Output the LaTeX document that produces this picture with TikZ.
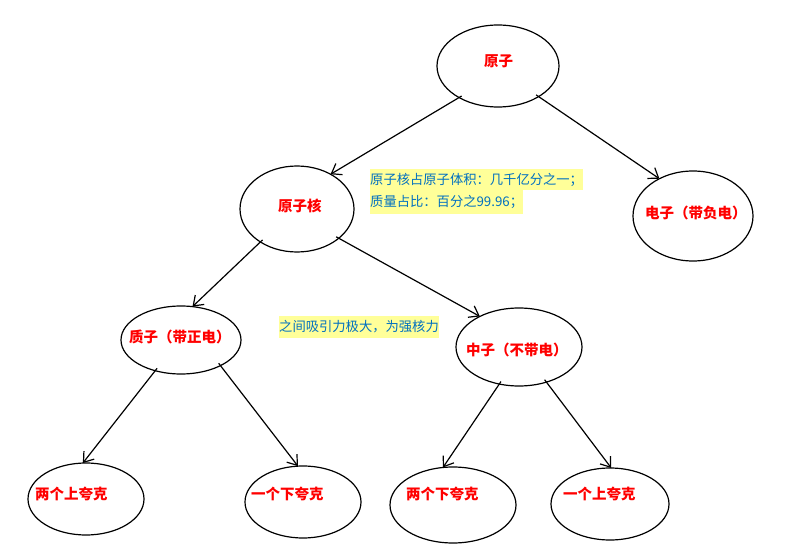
\documentclass[tikz,border=0pt]{standalone}
\usepackage{fontspec}
\setmainfont{Noto Sans CJK SC}
\usetikzlibrary{arrows.meta,shapes.geometric}
\definecolor{hl}{HTML}{FFFF99}
\definecolor{note}{HTML}{0070C0}
\definecolor{name}{HTML}{FF0000}

\begin{document}
\begin{tikzpicture}[
  x=1pt, y=-1pt,
  oval/.style={draw, ellipse, line width=1.2pt, inner sep=0pt, outer sep=0pt},
  tag/.style={text=name, font=\bfseries\fontsize{14.5}{16}\selectfont, inner sep=0pt, anchor=west},
  memo/.style={fill=hl, text=note, font=\fontsize{13.3}{15}\selectfont, inner xsep=0pt,
    inner ysep=0pt, minimum height=22pt, anchor=west},
  link/.style={-{Straight Barb[length=9pt,width=13pt,line width=1.2pt]}, line width=1.2pt,
    shorten <=-3pt}
]
  \useasboundingbox (0,0) rectangle (796,559);

  % ovals
  \node[oval, minimum width=122pt, minimum height=82pt] (atom) at (498,66) {};
  \node[oval, minimum width=114pt, minimum height=86pt] (nucleus) at (297,209) {};
  \node[oval, minimum width=120pt, minimum height=90pt] (electron) at (693,216) {};
  \node[oval, minimum width=120pt, minimum height=68pt] (proton) at (181,340) {};
  \node[oval, minimum width=126pt, minimum height=78pt] (neutron) at (519,347) {};
  \node[oval, minimum width=116pt, minimum height=72pt] (upA) at (86,499) {};
  \node[oval, minimum width=116pt, minimum height=72pt] (downA) at (303,502) {};
  \node[oval, minimum width=126pt, minimum height=76pt] (downB) at (453,505) {};
  \node[oval, minimum width=118pt, minimum height=72pt] (upB) at (610,504) {};

  % names
  \node[tag] (atom-t) at (484,61) {原子};
  \node[tag] (nucleus-t) at (278,206) {原子核};
  \node[tag] (electron-t) at (645,213) {电子（带负电）};
  \node[tag] (proton-t) at (129,337) {质子（带正电）};
  \node[tag] (neutron-t) at (466,350) {中子（不带电）};
  \node[tag] (upA-t) at (35,494) {两个上夸克};
  \node[tag] (downA-t) at (251,494) {一个下夸克};
  \node[tag] (downB-t) at (406,494) {两个下夸克};
  \node[tag] (upB-t) at (563,494) {一个上夸克};

  % notes
  \node[memo, minimum height=21pt] (size) at (370,179.5) {原子核占原子体积：几千亿分之一；};
  \node[memo, minimum height=24pt] (mass) at (370,202) {质量占比：百分之99.96；};
  \node[memo] (force) at (279,327) {之间吸引力极大，为强核力};

  % links
  \draw[link] (atom.219) -- (nucleus.46);
  \draw[link] (atom.323) -- (electron.132);
  \draw[link] (nucleus.222) -- (proton.71);
  \draw[link] (nucleus.325) -- (neutron.142);
  \draw[link] (proton.230) -- (upA.95);
  \draw[link] (proton.327) -- (downA.98);
  \draw[link] (neutron.242) -- (downB.105);
  \draw[link] (neutron.308) -- (upB.88);
\end{tikzpicture}
\end{document}
